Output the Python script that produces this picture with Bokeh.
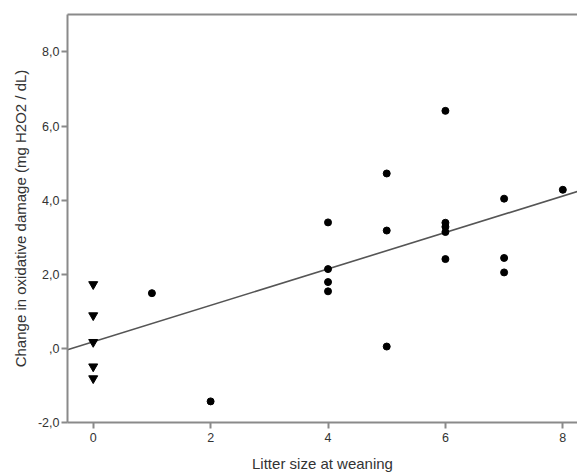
import numpy as np
from bokeh.plotting import figure
from bokeh.models import LinearAxis, FixedTicker, Range1d
from bokeh.embed import file_html
from bokeh.resources import INLINE

# ---- data ----
tri_x = [0, 0, 0, 0, 0]
tri_y = [1.73, 0.89, 0.17, -0.49, -0.81]
circ_x = [1, 2, 4, 4, 4, 4, 5, 5, 5, 6, 6, 6, 6, 6, 7, 7, 7, 8]
circ_y = [1.49, -1.43, 3.40, 2.14, 1.79, 1.54, 4.72, 3.18, 0.05,
          6.41, 3.39, 3.28, 3.14, 2.41, 4.04, 2.44, 2.05, 4.28]
x_ticks = [0, 2, 4, 6, 8]
y_ticks = [-2, 0, 2, 4, 6, 8]
y_tick_labels = ["-2,0", ",0", "2,0", "4,0", "6,0", "8,0"]
x_label = "Litter size at weaning"
y_label = "Change in oxidative damage (mg H2O2 / dL)"

X_START, X_END = -0.438, 8.25
Y_START, Y_END = -2.0, 9.01

AXIS_COLOR = "#8a8a8a"
TEXT_COLOR = "#333333"
FONT = "Liberation Sans"

p = figure(width=577, height=475, output_backend="svg", toolbar_location=None,
           x_range=Range1d(X_START, X_END), y_range=Range1d(Y_START, Y_END),
           min_border_left=67, min_border_right=0, min_border_top=14, min_border_bottom=53,
           x_axis_label=x_label, y_axis_label=y_label)
p.grid.visible = False
p.outline_line_color = None
p.background_fill_color = "white"
p.border_fill_color = "white"

for ax in (p.xaxis[0], p.yaxis[0]):
    ax.axis_line_color = AXIS_COLOR
    ax.axis_line_width = 2
    ax.major_tick_line_color = AXIS_COLOR
    ax.major_tick_line_width = 2
    ax.major_tick_out = 6
    ax.major_tick_in = 0
    ax.minor_tick_line_color = None
    ax.major_label_text_font = FONT
    ax.major_label_text_font_size = "12.5px"
    ax.major_label_text_color = TEXT_COLOR
    ax.axis_label_text_font = FONT
    ax.axis_label_text_font_size = "15px"
    ax.axis_label_text_font_style = "normal"
    ax.axis_label_text_color = TEXT_COLOR

p.xaxis[0].ticker = FixedTicker(ticks=x_ticks)
p.yaxis[0].ticker = FixedTicker(ticks=y_ticks)
p.yaxis[0].major_label_overrides = {t: l for t, l in zip(y_ticks, y_tick_labels)}
p.xaxis[0].major_label_standoff = 4
p.xaxis[0].axis_label_standoff = 10
p.yaxis[0].major_label_standoff = 2
p.yaxis[0].axis_label_standoff = 6

# top border line
top = LinearAxis(ticker=FixedTicker(ticks=[]), axis_line_color=AXIS_COLOR, axis_line_width=2,
                 major_tick_line_color=None, minor_tick_line_color=None,
                 major_label_text_font_size="0px")
p.add_layout(top, "above")

# regression line
all_x = np.array(tri_x + circ_x, dtype=float)
all_y = np.array(tri_y + circ_y, dtype=float)
slope, intercept = np.polyfit(all_x, all_y, 1)
lx = np.array([X_START, X_END])
p.line(lx, intercept + slope * lx, line_color="#555555", line_width=1.6)

p.scatter(tri_x, tri_y, marker="inverted_triangle", size=9, fill_color="black", line_color="black")
p.scatter(circ_x, circ_y, marker="circle", size=7, fill_color="black", line_color="black")

open("out.html", "w").write(file_html(p, INLINE))
